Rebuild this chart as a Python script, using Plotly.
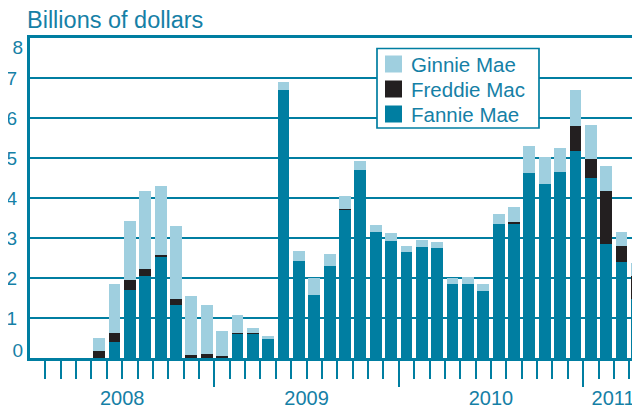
import plotly.graph_objects as go

# ---- data (billions of dollars, monthly, Jan 2008 .. Apr 2011) ----
months = [f"{m} {y}" for y in (2008, 2009, 2010) for m in
          ["Jan", "Feb", "Mar", "Apr", "May", "Jun", "Jul", "Aug", "Sep", "Oct", "Nov", "Dec"]] + \
         ["Jan 2011", "Feb 2011", "Mar 2011", "Apr 2011"]

fannie = [0, 0, 0, 0, 0.00, 0.40, 1.70, 2.05, 2.53, 1.33, 0.01, 0.01,
          0.00, 0.60, 0.60, 0.47, 6.70, 2.43, 1.58, 2.30, 3.70, 4.70, 3.15, 2.93,
          2.65, 2.78, 2.75, 1.85, 1.85, 1.68, 3.35, 3.37, 4.63, 4.35, 4.65, 5.18,
          4.50, 2.85, 2.40, 1.48]
freddie = [0, 0, 0, 0, 0.17, 0.22, 0.25, 0.18, 0.05, 0.15, 0.07, 0.09,
           0.05, 0.03, 0.03, 0.00, 0.00, 0.00, 0.00, 0.00, 0.02, 0.00, 0.00, 0.00,
           0.00, 0.00, 0.00, 0.00, 0.00, 0.00, 0.00, 0.02, 0.00, 0.00, 0.00, 0.62,
           0.48, 1.33, 0.40, 0.57]
ginnie = [0, 0, 0, 0, 0.34, 1.23, 1.48, 1.95, 1.72, 1.82, 1.47, 1.23,
          0.63, 0.45, 0.12, 0.08, 0.20, 0.25, 0.42, 0.30, 0.34, 0.23, 0.18, 0.20,
          0.15, 0.18, 0.15, 0.15, 0.18, 0.17, 0.25, 0.39, 0.67, 0.68, 0.60, 0.90,
          0.85, 0.62, 0.35, 0.33]

series_names = ["Fannie Mae", "Freddie Mac", "Ginnie Mae"]
legend_names = ["Ginnie Mae", "Freddie Mac", "Fannie Mae"]
years = ["2008", "2009", "2010", "2011"]
year_label_pos = [5.5, 17.5, 29.5, 37.45]
year_bounds = [11.5, 23.5, 35.5]
y_tick_vals = [0, 1, 2, 3, 4, 5, 6, 7, 8]

# ---- styles ----
TEAL = "#007ea1"
TEXT = "#1580a6"
DARK = "#231f20"
LIGHT = "#9fcfdf"
FONT = "Liberation Sans, Arial, sans-serif"
COLORS = {"Fannie Mae": TEAL, "Freddie Mac": DARK, "Ginnie Mae": LIGHT}
X_RANGE = [-0.5, 39.2]
PX_PER_UNIT = 40.0  # vertical pixels per billion

# page offset of the figure (browser body margin) and plot box in page pixels
OFF = 8
W, H = 640 - OFF, 411 - OFF
PL, PR, PT, PB = 30, 640, 38, 358


def px_x(p):
    return (p - PL) / (PR - PL)


def px_y(p):
    return (PB - p) / (PB - PT)


x = list(range(len(months)))

fig = go.Figure()
for name, vals in zip(series_names, [fannie, freddie, ginnie]):
    fig.add_trace(go.Bar(x=x, y=vals, name=name,
                         marker=dict(color=COLORS[name], line=dict(width=0)),
                         width=0.77, showlegend=False, hovertext=months))

# helper trace for the label axes
fig.add_trace(go.Scatter(x=[None], y=[None], xaxis="x2", yaxis="y2",
                         showlegend=False, hoverinfo="skip"))

minor_vals = [i + 0.5 for i in range(39) if (i + 0.5) not in year_bounds]

# end labels of the value axis sit just inside the frame
y_end_vals = [0 + 8 / PX_PER_UNIT, 8 - 9 / PX_PER_UNIT]

fig.update_layout(
    width=W, height=H,
    margin=dict(l=PL - OFF, r=0, t=PT - OFF, b=H + OFF - PB, autoexpand=False),
    barmode="stack",
    showlegend=False,
    plot_bgcolor="white", paper_bgcolor="white",
    font=dict(family=FONT, color=TEXT),
    title=dict(text="Billions of dollars", x=(27 - OFF) / W, xanchor="left",
               y=1 - (20 - OFF) / H, yanchor="middle",
               font=dict(size=23.5, color=TEXT, family=FONT)),
    xaxis=dict(range=X_RANGE, showgrid=False, zeroline=False,
               showline=True, linecolor=TEAL, linewidth=3, mirror=True,
               tickmode="array", tickvals=year_bounds, ticks="outside",
               ticklen=26, tickwidth=1.5, tickcolor=TEAL, showticklabels=False,
               minor=dict(tickmode="array", tickvals=minor_vals, ticks="outside",
                          ticklen=18, tickwidth=1.5, tickcolor=TEAL, showgrid=False)),
    xaxis2=dict(range=X_RANGE, overlaying="x", anchor="y", side="bottom",
                showgrid=False, zeroline=False, showline=False, ticks="",
                tickmode="array", tickvals=year_label_pos, ticktext=years,
                ticklabelstandoff=26,
                tickfont=dict(size=20, color=TEXT, family=FONT)),
    yaxis=dict(range=[0, 8], showgrid=True, gridcolor=TEAL, gridwidth=1.5,
               zeroline=False, showline=True, linecolor=TEAL, linewidth=3,
               tickmode="array", tickvals=y_tick_vals,
               ticktext=[("" if v in (0, 8) else str(v)) for v in y_tick_vals],
               ticks="", ticklabelstandoff=6, ticklabeloverflow="allow",
               tickfont=dict(size=19, color=TEXT, family=FONT)),
    yaxis2=dict(range=[0, 8], overlaying="y", anchor="x", side="left",
                showgrid=False, zeroline=False, showline=False, ticks="",
                tickmode="array", tickvals=y_end_vals, ticktext=["0", "8"],
                ticklabelstandoff=6, ticklabeloverflow="allow",
                tickfont=dict(size=19, color=TEXT, family=FONT)),
)

# ---- legend box (key) ----
fig.add_shape(type="rect", xref="paper", yref="paper",
              x0=px_x(377), x1=px_x(539), y0=px_y(128), y1=px_y(48.5),
              fillcolor="white", line=dict(color=TEAL, width=1.7), layer="above")
for i, name in enumerate(legend_names):
    cy = 64 + 25 * i
    fig.add_shape(type="rect", xref="paper", yref="paper",
                  x0=px_x(385), x1=px_x(402), y0=px_y(cy + 8.5), y1=px_y(cy - 8.5),
                  fillcolor=COLORS[name], line=dict(width=0), layer="above")
    fig.add_annotation(x=px_x(409), y=px_y(cy), xref="paper", yref="paper",
                       xanchor="left", yanchor="middle", text=name, showarrow=False,
                       font=dict(size=20.5, color=TEXT, family=FONT))

fig.write_html("out.html")
